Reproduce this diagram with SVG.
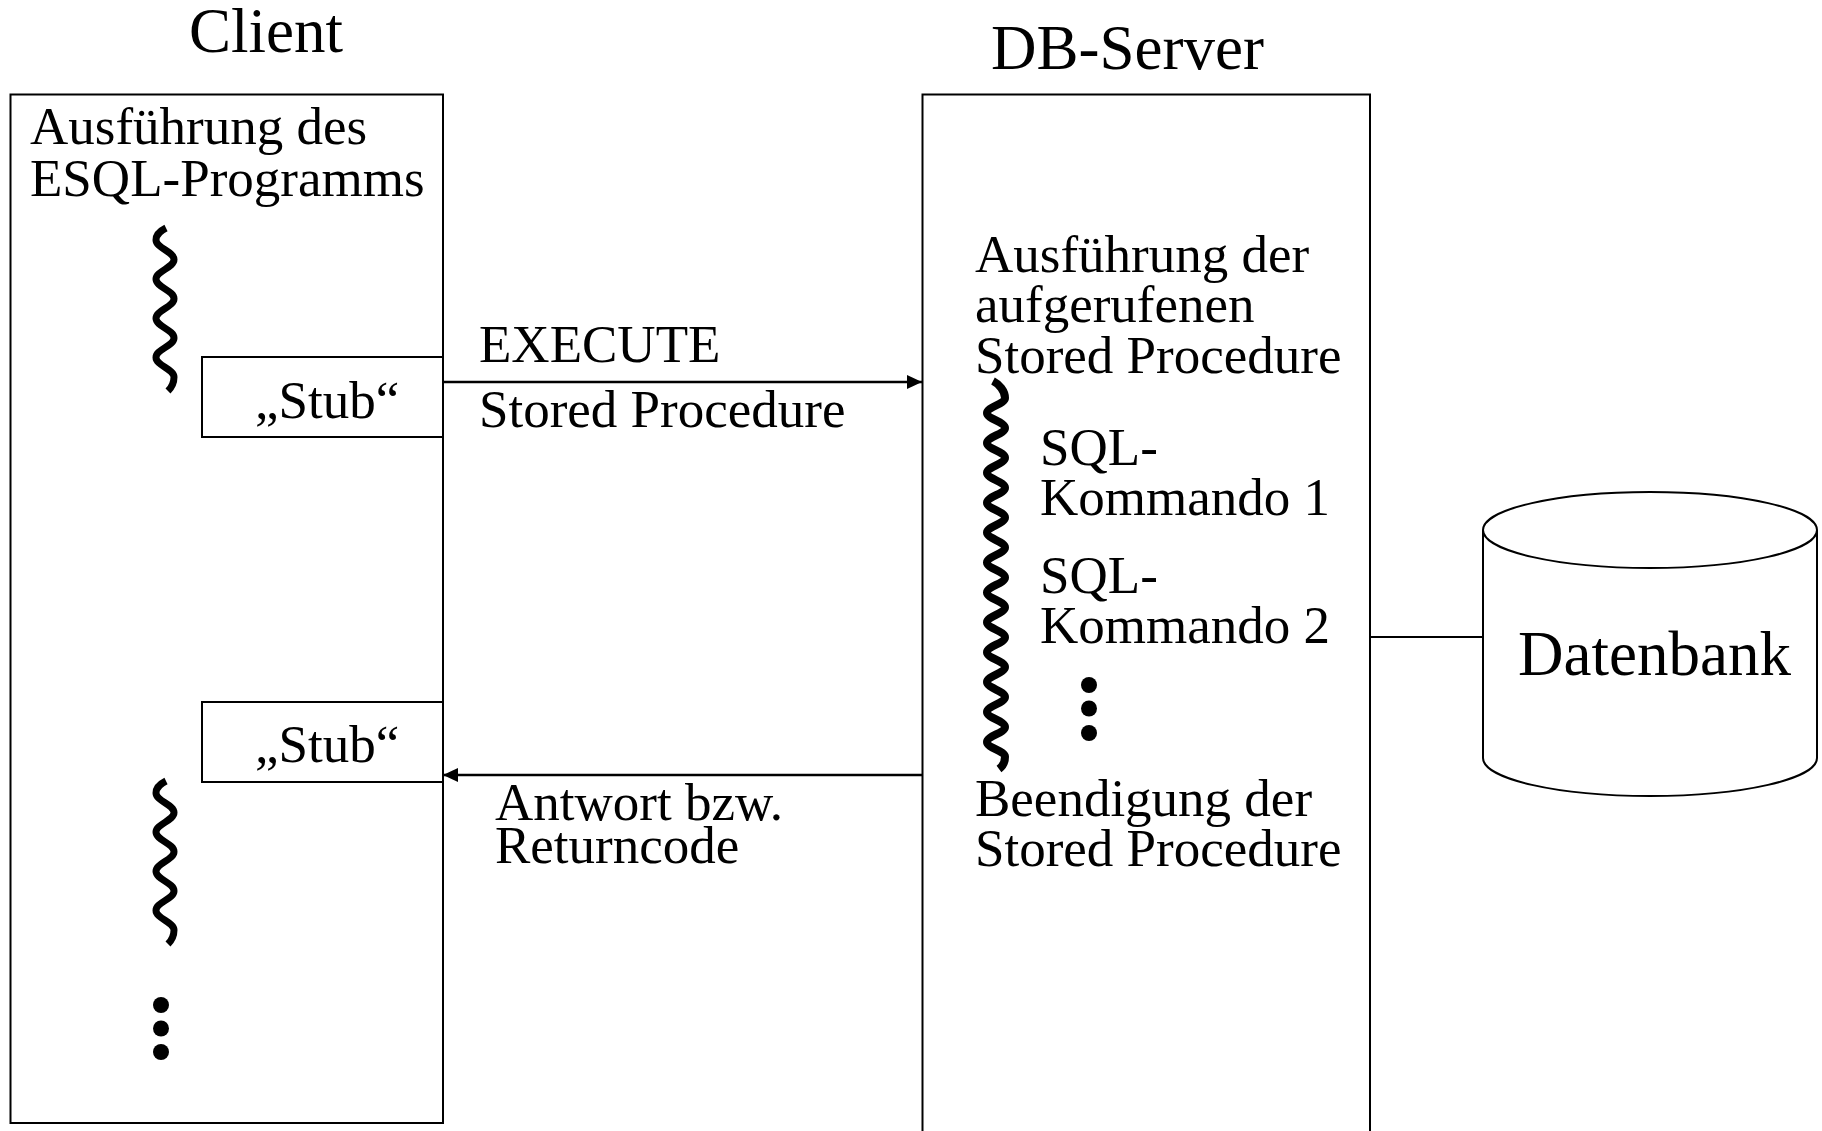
<svg xmlns="http://www.w3.org/2000/svg" xmlns:xlink="http://www.w3.org/1999/xlink" width="1822" height="1131" viewBox="0 0 1822 1131">
<style>
  .box { fill: none; stroke: #000; stroke-width: 2; }
  .t { font-family: "Liberation Serif", "Times New Roman", serif; font-size: 53px; fill: #000; }
  .title { font-family: "Liberation Serif", "Times New Roman", serif; font-size: 63px; fill: #000; }
  .wave { fill: none; stroke: #000; stroke-width: 7; }
  .wave2 { fill: none; stroke: #000; stroke-width: 8; }
  .conn { fill: none; stroke: #000; stroke-width: 2.5; }
  .dot { fill: #000; }
</style>
<defs>
  <marker id="arr" markerUnits="userSpaceOnUse" markerWidth="16" markerHeight="16" refX="15" refY="7" orient="auto">
    <path d="M0,0 L15,7 L0,14 Z" fill="#000"/>
  </marker>
  <path id="cwave" class="wave" d="M166,228 C160,231 156,235 156,240 C156,248 174,251.6 174,259.6 C174,267.6 156,271.1 156,279.1 C156,287.1 174,290.7 174,298.7 C174,306.7 156,310.3 156,318.3 C156,326.3 174,329.9 174,337.9 C174,345.9 156,349.4 156,357.4 C156,365.4 174,369 174,377 C174,383 172,387 168,391"/>
</defs>
<rect width="1822" height="1131" fill="#fff"/>

<g id="client">
  <text class="title" x="189" y="52">Client</text>
  <rect class="box" x="10.5" y="94.5" width="432.5" height="1028.5"/>
  <text class="t" x="30" y="144">Ausführung des</text>
  <text class="t" x="30" y="196">ESQL-Programms</text>
  <use xlink:href="#cwave"/>
  <use xlink:href="#cwave" transform="translate(0,553)"/>
  <circle class="dot" cx="161" cy="1005" r="8"/>
  <circle class="dot" cx="161" cy="1028.5" r="8"/>
  <circle class="dot" cx="161" cy="1052" r="8"/>
</g>

<g id="stub1">
  <rect class="box" x="202" y="357" width="241" height="80"/>
  <text class="t" x="255" y="418">„Stub“</text>
</g>

<g id="stub2">
  <rect class="box" x="202" y="702" width="241" height="80"/>
  <text class="t" x="255" y="762">„Stub“</text>
</g>

<g id="server">
  <text class="title" x="991" y="69">DB-Server</text>
  <rect class="box" x="922.5" y="94.5" width="447.5" height="1100"/>
  <text class="t" x="975" y="272">Ausführung der</text>
  <text class="t" x="975" y="322">aufgerufenen</text>
  <text class="t" x="975" y="373">Stored Procedure</text>
  <path class="wave2" d="M993,381 C999,384 1005,391 1005,398 C1005,404 987,407 987,413 C987,419 1005,421.9 1005,427.9 C1005,433.9 987,436.9 987,442.9 C987,448.9 1005,451.8 1005,457.8 C1005,463.8 987,466.8 987,472.8 C987,478.8 1005,481.7 1005,487.7 C1005,493.7 987,496.7 987,502.7 C987,508.7 1005,511.6 1005,517.6 C1005,523.6 987,526.6 987,532.6 C987,538.6 1005,541.5 1005,547.5 C1005,553.5 987,556.5 987,562.5 C987,568.5 1005,571.4 1005,577.4 C1005,583.4 987,586.4 987,592.4 C987,598.4 1005,601.3 1005,607.3 C1005,613.3 987,616.3 987,622.3 C987,628.3 1005,631.2 1005,637.2 C1005,643.2 987,646.2 987,652.2 C987,658.2 1005,661.1 1005,667.1 C1005,673.1 987,676.1 987,682.1 C987,688.1 1005,691 1005,697 C1005,703 987,706 987,712 C987,718 1005,720.9 1005,726.9 C1005,732.9 987,735.9 987,741.9 C987,747.9 1005,750.8 1005,756.8 C1005,762 1003,766 999,769"/>
  <text class="t" x="1040" y="465">SQL-</text>
  <text class="t" x="1040" y="515">Kommando 1</text>
  <text class="t" x="1040" y="593">SQL-</text>
  <text class="t" x="1040" y="643">Kommando 2</text>
  <circle class="dot" cx="1089" cy="685" r="8"/>
  <circle class="dot" cx="1089" cy="708.5" r="8"/>
  <circle class="dot" cx="1089" cy="733" r="8"/>
  <text class="t" x="975" y="816">Beendigung der</text>
  <text class="t" x="975" y="866">Stored Procedure</text>
</g>

<g id="datenbank">
  <path class="box" d="M1483,530 L1483,758 A167,38 0 0 0 1817,758 L1817,530"/>
  <ellipse class="box" cx="1650" cy="530" rx="167" ry="38"/>
  <text class="title" x="1518" y="675">Datenbank</text>
</g>

<g id="connectors">
  <line class="conn" x1="443" y1="382" x2="922" y2="382" marker-end="url(#arr)"/>
  <line class="conn" x1="922" y1="775" x2="443" y2="775" marker-end="url(#arr)"/>
  <line class="box" x1="1370" y1="637" x2="1483" y2="637"/>
  <text class="t" x="479" y="362">EXECUTE</text>
  <text class="t" x="479" y="427">Stored Procedure</text>
  <text class="t" x="495" y="820">Antwort bzw.</text>
  <text class="t" x="495" y="863">Returncode</text>
</g>
</svg>
